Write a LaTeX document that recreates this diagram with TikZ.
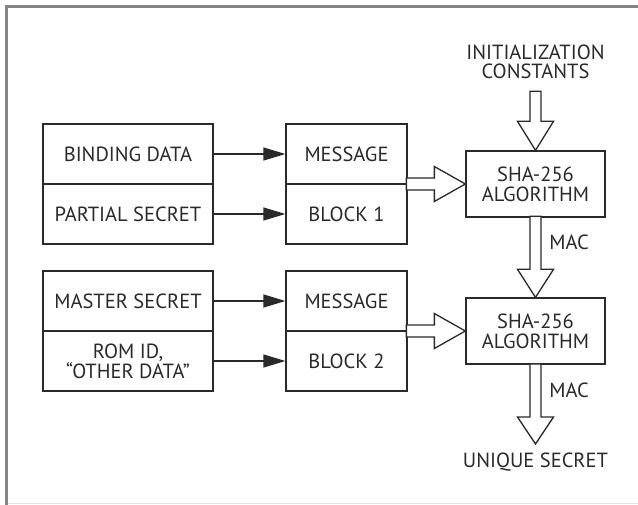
\documentclass[tikz,border=0pt]{standalone}
\usepackage{fontspec}
\setmainfont{PT Sans}
\usetikzlibrary{arrows.meta,calc}
\definecolor{ink}{HTML}{2A2A2A}
\definecolor{frame}{HTML}{858585}
\tikzset{
  box/.style={draw=ink, line width=1.3pt, minimum height=60pt, inner sep=0pt, text=ink, align=center, font=\fontsize{20.5}{20}\selectfont},
  lbox/.style={box, minimum width=170pt},
  mbox/.style={box, minimum width=121pt},
  shabox/.style={box, minimum width=139pt, minimum height=66pt},
  thin/.style={draw=ink, line width=1.3pt, -{Triangle[length=22pt,width=13pt]}},
  hollow/.style={draw=ink, line width=1.3pt, fill=white, line join=miter},
  lbl/.style={text=ink, align=center, inner sep=0pt, font=\fontsize{20.5}{19.5}\selectfont}
}
\begin{document}
\begin{tikzpicture}[x=1pt,y=-1pt]
\useasboundingbox (0,0) rectangle (638,505);
\fill[white] (0,0) rectangle (638,505);
\draw[frame, line width=3pt] (6.5,505) -- (6.5,6.5) -- (638,6.5);
\draw[black!10, line width=1pt] (8,503.5) -- (638,503.5);

\node[lbox] (bd) at (128,154) {BINDING DATA};
\node[lbox] (ps) at (128,214) {PARTIAL SECRET};
\node[lbox] (ms) at (128,301) {MASTER SECRET};
\node[lbox] (rom) at (128,361) {ROM ID,\\``OTHER DATA''};

\node[mbox] (msg1) at (346.5,154) {MESSAGE};
\node[mbox] (blk1) at (346.5,214) {BLOCK 1};
\node[mbox] (msg2) at (346.5,301) {MESSAGE};
\node[mbox] (blk2) at (346.5,361) {BLOCK 2};

\node[shabox] (sha1) at (535.5,184) {SHA-256\\ALGORITHM};
\node[shabox] (sha2) at (535.5,331) {SHA-256\\ALGORITHM};

\node[lbl] (init) at (535.5,62) {INITIALIZATION\\CONSTANTS};
\node[lbl] (mac1) at (569,242) {MAC};
\node[lbl] (mac2) at (569,390) {MAC};
\node[lbl] (uniq) at (535.5,462) {UNIQUE SECRET};
\coordinate (out) at (535.5,444);

\draw[thin] (bd) -- (msg1);
\draw[thin] (ps) -- (blk1);
\draw[thin] (ms) -- (msg2);
\draw[thin] (rom.east |- blk2) -- (blk2);

% hollow horizontal arrows
\draw[hollow] (sha1.west) -- ++(-31,-17.5) -- ++(0,11.5) -- ++(-28,0) -- ++(0,12) -- ++(28,0) -- ++(0,11.5) -- cycle;
\draw[hollow] (sha2.west) -- ++(-31,-17.5) -- ++(0,11.5) -- ++(-28,0) -- ++(0,12) -- ++(28,0) -- ++(0,11.5) -- cycle;
% hollow vertical arrows
\draw[hollow] (sha1.north) -- ++(-18,-29) -- ++(12.5,0) -- ++(0,-30) -- ++(11,0) -- ++(0,30) -- ++(12.5,0) -- cycle;
\draw[hollow] (sha2.north) -- ++(-18,-28) -- ++(12.5,0) -- ++(0,-53) -- ++(11,0) -- ++(0,53) -- ++(12.5,0) -- cycle;
\draw[hollow] (out) -- ++(-18,-27) -- ++(12.5,0) -- ++(0,-53) -- ++(11,0) -- ++(0,53) -- ++(12.5,0) -- cycle;
\end{tikzpicture}
\end{document}
